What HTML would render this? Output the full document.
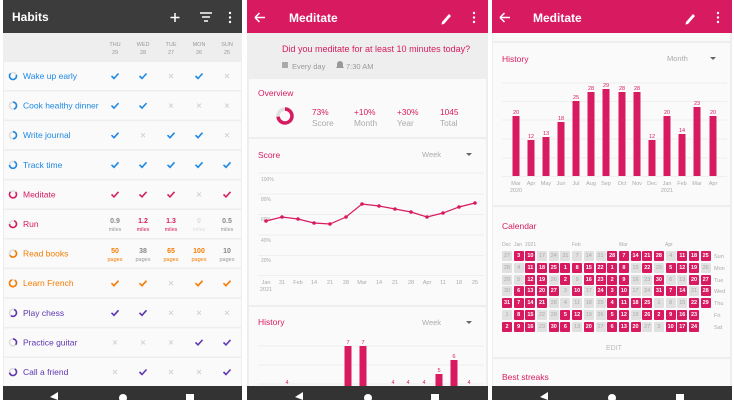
<!DOCTYPE html>
<html><head><meta charset="utf-8"><style>
body{margin:0;background:#fff;width:734px;height:400px;overflow:hidden;position:relative;font-family:"Liberation Sans",sans-serif}
svg{position:absolute;left:0;top:0}
.cal{position:absolute;left:502px;top:251px;display:grid;grid-template-rows:repeat(7,10px);grid-auto-flow:column;grid-auto-columns:10px;gap:1.8px 1.7px;font-family:"Liberation Sans",sans-serif;font-size:5.5px;font-weight:bold;text-align:center;line-height:10px}
.cal b{background:#d81b60;color:#fff;border-radius:1px}
.cal i{background:#e0e0e0;color:#aaa;font-style:normal;font-weight:normal;border-radius:1px}
</style></head><body>
<svg width="734" height="400" viewBox="0 0 734 400" font-family="Liberation Sans, sans-serif">
<defs>
<path id="ck" d="M-3.5,0 L-1,2.5 L3.5,-2.5" fill="none" stroke-width="1.6"/>
<path id="xx" d="M-2,-2 L2,2 M2,-2 L-2,2" stroke="#d0d0d0" stroke-width="0.9"/>
</defs>
<!-- PANEL 1 -->
<rect x="3" y="0" width="239" height="400" fill="#eeeeee"/>
<rect x="3" y="0" width="239" height="33" fill="#3c3c3c"/>
<text x="12" y="21" fill="#fff" font-size="12" font-weight="bold">Habits</text>
<path d="M175,13v9M170.5,17.5h9" stroke="#fff" stroke-width="1.5"/>
<path d="M200,13h12M202,17h8M204,21h4" stroke="#fff" stroke-width="1.4"/>
<circle cx="230" cy="13" r="1.2" fill="#fff"/><circle cx="230" cy="17.5" r="1.2" fill="#fff"/><circle cx="230" cy="22" r="1.2" fill="#fff"/>
<g fill="#999" font-size="5.5" text-anchor="middle">
<text x="115" y="46">THU</text><text x="115" y="54">29</text>
<text x="143" y="46">WED</text><text x="143" y="54">28</text>
<text x="171" y="46">TUE</text><text x="171" y="54">27</text>
<text x="199" y="46">MON</text><text x="199" y="54">26</text>
<text x="227" y="46">SUN</text><text x="227" y="54">25</text>
</g>
<g fill="#fafafa">
<rect x="4" y="62" width="237" height="28"/><rect x="4" y="91.6" width="237" height="28"/><rect x="4" y="121.2" width="237" height="28"/><rect x="4" y="150.8" width="237" height="28"/><rect x="4" y="180.4" width="237" height="28"/><rect x="4" y="210" width="237" height="28"/><rect x="4" y="239.6" width="237" height="28"/><rect x="4" y="269.2" width="237" height="28"/><rect x="4" y="298.8" width="237" height="28"/><rect x="4" y="328.4" width="237" height="28"/><rect x="4" y="358" width="237" height="28"/>
</g>
<g font-size="8.5">
<text x="23" y="79" fill="#1e88e5">Wake up early</text>
<text x="23" y="108.6" fill="#1e88e5">Cook healthy dinner</text>
<text x="23" y="138.2" fill="#1e88e5">Write journal</text>
<text x="23" y="167.8" fill="#1e88e5">Track time</text>
<text x="23" y="197.4" fill="#d81b60">Meditate</text>
<text x="23" y="227" fill="#d81b60">Run</text>
<text x="23" y="256.6" fill="#f57c00">Read books</text>
<text x="23" y="286.2" fill="#f57c00">Learn French</text>
<text x="23" y="315.8" fill="#5e35b1">Play chess</text>
<text x="23" y="345.4" fill="#5e35b1">Practice guitar</text>
<text x="23" y="375" fill="#5e35b1">Call a friend</text>
</g>
<g fill="none" stroke-width="1.6">
<circle cx="13" cy="76" r="3.5" stroke="#ddd"/><circle cx="13" cy="76" r="3.5" stroke="#1e88e5" stroke-dasharray="15 30" transform="rotate(-20 13 76)"/>
<circle cx="13" cy="105.6" r="3.5" stroke="#ddd"/><circle cx="13" cy="105.6" r="3.5" stroke="#1e88e5" stroke-dasharray="10 30" transform="rotate(-90 13 105.6)"/>
<circle cx="13" cy="135.2" r="3.5" stroke="#ddd"/><circle cx="13" cy="135.2" r="3.5" stroke="#1e88e5" stroke-dasharray="11 30" transform="rotate(-90 13 135.2)"/>
<circle cx="13" cy="164.8" r="3.5" stroke="#ddd"/><circle cx="13" cy="164.8" r="3.5" stroke="#1e88e5" stroke-dasharray="15 30" transform="rotate(-70 13 164.8)"/>
<circle cx="13" cy="194.4" r="3.5" stroke="#ddd"/><circle cx="13" cy="194.4" r="3.5" stroke="#d81b60" stroke-dasharray="16 30" transform="rotate(-40 13 194.4)"/>
<circle cx="13" cy="224" r="3.5" stroke="#ddd"/><circle cx="13" cy="224" r="3.5" stroke="#d81b60" stroke-dasharray="15 30" transform="rotate(-70 13 224)"/>
<circle cx="13" cy="253.6" r="3.5" stroke="#ddd"/><circle cx="13" cy="253.6" r="3.5" stroke="#f57c00" stroke-dasharray="13 30" transform="rotate(-60 13 253.6)"/>
<circle cx="13" cy="283.2" r="3.5" stroke="#ddd"/><circle cx="13" cy="283.2" r="3.5" stroke="#f57c00" stroke-dasharray="19 30" transform="rotate(-60 13 283.2)"/>
<circle cx="13" cy="312.8" r="3.5" stroke="#ddd"/><circle cx="13" cy="312.8" r="3.5" stroke="#5e35b1" stroke-dasharray="12 30" transform="rotate(-70 13 312.8)"/>
<circle cx="13" cy="342.4" r="3.5" stroke="#ddd"/><circle cx="13" cy="342.4" r="3.5" stroke="#5e35b1" stroke-dasharray="8 30" transform="rotate(-90 13 342.4)"/>
<circle cx="13" cy="372" r="3.5" stroke="#ddd"/><circle cx="13" cy="372" r="3.5" stroke="#5e35b1" stroke-dasharray="14 30" transform="rotate(-60 13 372)"/>
</g>
<g stroke="#1e88e5">
<use href="#ck" x="115" y="76"/><use href="#ck" x="143" y="76"/><use href="#xx" x="171" y="76"/><use href="#ck" x="199" y="76"/><use href="#xx" x="227" y="76"/>
<use href="#ck" x="115" y="105.6"/><use href="#ck" x="143" y="105.6"/><use href="#xx" x="171" y="105.6"/><use href="#xx" x="199" y="105.6"/><use href="#xx" x="227" y="105.6"/>
<use href="#ck" x="115" y="135.2"/><use href="#xx" x="143" y="135.2"/><use href="#ck" x="171" y="135.2"/><use href="#ck" x="199" y="135.2"/><use href="#xx" x="227" y="135.2"/>
<use href="#ck" x="115" y="164.8"/><use href="#ck" x="143" y="164.8"/><use href="#ck" x="171" y="164.8"/><use href="#ck" x="199" y="164.8"/><use href="#ck" x="227" y="164.8"/>
</g>
<g stroke="#d81b60">
<use href="#ck" x="115" y="194.4"/><use href="#ck" x="143" y="194.4"/><use href="#ck" x="171" y="194.4"/><use href="#xx" x="199" y="194.4"/><use href="#ck" x="227" y="194.4"/>
</g>
<g stroke="#f57c00">
<use href="#ck" x="115" y="283.2"/><use href="#ck" x="143" y="283.2"/><use href="#xx" x="171" y="283.2"/><use href="#ck" x="199" y="283.2"/><use href="#ck" x="227" y="283.2"/>
</g>
<g stroke="#5e35b1">
<use href="#ck" x="115" y="312.8"/><use href="#ck" x="143" y="312.8"/><use href="#xx" x="171" y="312.8"/><use href="#xx" x="199" y="312.8"/><use href="#xx" x="227" y="312.8"/>
<use href="#xx" x="115" y="342.4"/><use href="#xx" x="143" y="342.4"/><use href="#xx" x="171" y="342.4"/><use href="#ck" x="199" y="342.4"/><use href="#ck" x="227" y="342.4"/>
<use href="#xx" x="115" y="372"/><use href="#ck" x="143" y="372"/><use href="#xx" x="171" y="372"/><use href="#xx" x="199" y="372"/><use href="#ck" x="227" y="372"/>
</g>
<g text-anchor="middle" font-size="7" font-weight="bold">
<text x="115" y="223" fill="#888">0.9</text><text x="143" y="223" fill="#d81b60">1.2</text><text x="171" y="223" fill="#d81b60">1.3</text><text x="199" y="223" fill="#ddd">0</text><text x="227" y="223" fill="#888">0.5</text>
<text x="115" y="253" fill="#f57c00">50</text><text x="143" y="253" fill="#888">38</text><text x="171" y="253" fill="#f57c00">65</text><text x="199" y="253" fill="#f57c00">100</text><text x="227" y="253" fill="#888">10</text>
</g>
<g text-anchor="middle" font-size="5.5">
<text x="115" y="231" fill="#999">miles</text><text x="143" y="231" fill="#d81b60">miles</text><text x="171" y="231" fill="#d81b60">miles</text><text x="199" y="231" fill="#ddd">miles</text><text x="227" y="231" fill="#999">miles</text>
<text x="115" y="261" fill="#f57c00">pages</text><text x="143" y="261" fill="#999">pages</text><text x="171" y="261" fill="#f57c00">pages</text><text x="199" y="261" fill="#f57c00">pages</text><text x="227" y="261" fill="#999">pages</text>
</g>
<rect x="3" y="386" width="239" height="14" fill="#333"/>
<path d="M50,397 L58,392 L58,400 Z" fill="#fff"/><circle cx="123" cy="398" r="4" fill="#fff"/><rect x="186" y="394" width="8" height="8" fill="#fff"/>

<!-- PANEL 2 -->
<rect x="247" y="0" width="241" height="400" fill="#eeeeee"/>
<rect x="247" y="0" width="241" height="33" fill="#d81b60"/>
<path d="M255,17.5h10M255,17.5l4.5,-4.5M255,17.5l4.5,4.5" stroke="#fff" stroke-width="1.5" fill="none"/>
<text x="289" y="22" fill="#fff" font-size="12" font-weight="bold">Meditate</text>
<path d="M442,22 L449,14 L451,16 L444,24 L441.5,24.5 Z" fill="#fff"/>
<circle cx="474" cy="13" r="1.2" fill="#fff"/><circle cx="474" cy="17.5" r="1.2" fill="#fff"/><circle cx="474" cy="22" r="1.2" fill="#fff"/>
<text x="282" y="52" fill="#d81b60" font-size="9">Did you meditate for at least 10 minutes today?</text>
<rect x="282" y="62" width="6" height="6" fill="#aaa"/>
<text x="292" y="69" fill="#999" font-size="7.5">Every day</text>
<path d="M336,68h8l-1,-1.5v-2.5a3,3 0 0 0 -6,0v2.5z" fill="#999"/>
<text x="346" y="69" fill="#999" font-size="7.5">7:30 AM</text>
<rect x="249" y="79" width="237" height="58" fill="#fafafa"/>
<text x="258" y="96" fill="#d81b60" font-size="8.5">Overview</text>
<circle cx="285" cy="116" r="7" fill="none" stroke="#e0e0e0" stroke-width="3.5"/>
<circle cx="285" cy="116" r="7" fill="none" stroke="#d81b60" stroke-width="3.5" stroke-dasharray="32 44" transform="rotate(-90 285 116)"/>
<g font-size="8.3"><text x="312" y="115" fill="#d81b60">73%</text><text x="312" y="126" fill="#aaa">Score</text>
<text x="354" y="115" fill="#d81b60">+10%</text><text x="354" y="126" fill="#aaa">Month</text>
<text x="397" y="115" fill="#d81b60">+30%</text><text x="397" y="126" fill="#aaa">Year</text>
<text x="440" y="115" fill="#d81b60">1045</text><text x="440" y="126" fill="#aaa">Total</text></g>
<rect x="249" y="139" width="237" height="166" fill="#fafafa"/>
<text x="258" y="158" fill="#d81b60" font-size="8.5">Score</text>
<text x="422" y="157" fill="#aaa" font-size="7.5">Week</text><path d="M466,153h6l-3,3z" fill="#666"/>
<g stroke="#ebebeb" stroke-width="0.7"><path d="M258,173H484M258,194H484M258,214.5H484M258,235H484M258,255.5H484M258,275.5H484"/></g>
<g fill="#aaa" font-size="5"><text x="261" y="181">100%</text><text x="261" y="201">80%</text><text x="261" y="221">60%</text><text x="261" y="242">40%</text><text x="261" y="262">20%</text></g>
<polyline fill="none" stroke="#d81b60" stroke-width="1.2" points="266,221 282,217 298,219 314,223 330,224 346,217 362,204 379,206 395,209 411,212 427,217 443,213 459,207 475,203"/>
<g fill="#d81b60"><circle cx="266" cy="221" r="1.8"/><circle cx="282" cy="217" r="1.8"/><circle cx="298" cy="219" r="1.8"/><circle cx="314" cy="223" r="1.8"/><circle cx="330" cy="224" r="1.8"/><circle cx="346" cy="217" r="1.8"/><circle cx="362" cy="204" r="1.8"/><circle cx="379" cy="206" r="1.8"/><circle cx="395" cy="209" r="1.8"/><circle cx="411" cy="212" r="1.8"/><circle cx="427" cy="217" r="1.8"/><circle cx="443" cy="213" r="1.8"/><circle cx="459" cy="207" r="1.8"/><circle cx="475" cy="203" r="1.8"/></g>
<g fill="#aaa" font-size="5.5" text-anchor="middle"><text x="266" y="284">Jan</text><text x="266" y="291">2021</text><text x="282" y="284">31</text><text x="298" y="284">Feb</text><text x="314" y="284">14</text><text x="330" y="284">21</text><text x="346" y="284">28</text><text x="362" y="284">Mar</text><text x="379" y="284">14</text><text x="395" y="284">21</text><text x="411" y="284">28</text><text x="427" y="284">Apr</text><text x="443" y="284">11</text><text x="459" y="284">18</text><text x="475" y="284">25</text></g>
<rect x="249" y="307" width="237" height="79" fill="#fafafa"/>
<text x="258" y="325" fill="#d81b60" font-size="8.5">History</text>
<text x="422" y="325" fill="#aaa" font-size="7.5">Week</text><path d="M466,321h6l-3,3z" fill="#666"/>
<g stroke="#ebebeb" stroke-width="0.7"><path d="M258,346H484M258,365H484M258,384H484"/></g>
<g fill="#d81b60"><rect x="344.5" y="346" width="7" height="40"/><rect x="359.5" y="346" width="7" height="40"/><rect x="435.5" y="374" width="7" height="12"/><rect x="450.5" y="360" width="7" height="26"/></g>
<g fill="#d81b60" font-size="5.5" text-anchor="middle"><text x="348" y="344">7</text><text x="363" y="344">7</text><text x="439" y="372">5</text><text x="454" y="358">6</text><text x="287" y="384">4</text><text x="393" y="384">4</text><text x="408" y="384">4</text><text x="424" y="384">4</text><text x="469" y="384">4</text></g>
<rect x="247" y="386" width="241" height="14" fill="#333"/>
<path d="M295,397 L303,392 L303,400 Z" fill="#fff"/><circle cx="368" cy="398" r="4" fill="#fff"/><rect x="431" y="394" width="8" height="8" fill="#fff"/>

<!-- PANEL 3 -->
<rect x="492" y="0" width="240" height="400" fill="#eeeeee"/>
<rect x="493" y="33" width="237" height="8" fill="#fafafa"/>
<rect x="492" y="0" width="240" height="33" fill="#d81b60"/>
<path d="M500,17.5h10M500,17.5l4.5,-4.5M500,17.5l4.5,4.5" stroke="#fff" stroke-width="1.5" fill="none"/>
<text x="533" y="22" fill="#fff" font-size="12" font-weight="bold">Meditate</text>
<path d="M686,22 L693,14 L695,16 L688,24 L685.5,24.5 Z" fill="#fff"/>
<circle cx="718" cy="13" r="1.2" fill="#fff"/><circle cx="718" cy="17.5" r="1.2" fill="#fff"/><circle cx="718" cy="22" r="1.2" fill="#fff"/>
<rect x="493" y="43" width="237" height="162" fill="#fafafa"/>
<text x="502" y="62" fill="#d81b60" font-size="8.5">History</text>
<text x="667" y="61" fill="#aaa" font-size="7.5">Month</text><path d="M710,57h6l-3,3z" fill="#666"/>
<g stroke="#ebebeb" stroke-width="0.7"><path d="M502,83H727M502,101.5H727M502,120H727M502,139H727M502,158H727M502,176.5H727"/></g>
<g fill="#d81b60">
<rect x="512.5" y="116" width="7" height="60"/><rect x="527.5" y="140" width="7" height="36"/><rect x="542.5" y="137" width="7" height="39"/><rect x="557.5" y="122" width="7" height="54"/><rect x="572.5" y="101" width="7" height="75"/><rect x="587.5" y="92" width="7" height="84"/><rect x="602.5" y="89" width="7" height="87"/><rect x="618.5" y="92" width="7" height="84"/><rect x="633.5" y="92" width="7" height="84"/><rect x="648.5" y="140" width="7" height="36"/><rect x="663.5" y="116" width="7" height="60"/><rect x="678.5" y="134" width="7" height="42"/><rect x="693.5" y="107" width="7" height="69"/><rect x="709.5" y="116" width="7" height="60"/>
</g>
<g fill="#d81b60" font-size="5.5" text-anchor="middle"><text x="516" y="114">20</text><text x="531" y="138">12</text><text x="546" y="135">13</text><text x="561" y="120">18</text><text x="576" y="99">25</text><text x="591" y="90">28</text><text x="606" y="87">29</text><text x="622" y="90">28</text><text x="637" y="90">28</text><text x="652" y="138">12</text><text x="667" y="114">20</text><text x="682" y="132">14</text><text x="697" y="105">23</text><text x="713" y="114">20</text></g>
<g fill="#aaa" font-size="5.5" text-anchor="middle"><text x="516" y="185">Mar</text><text x="516" y="192">2020</text><text x="531" y="185">Apr</text><text x="546" y="185">May</text><text x="561" y="185">Jun</text><text x="576" y="185">Jul</text><text x="591" y="185">Aug</text><text x="606" y="185">Sep</text><text x="622" y="185">Oct</text><text x="637" y="185">Nov</text><text x="652" y="185">Dec</text><text x="667" y="185">Jan</text><text x="667" y="192">2021</text><text x="682" y="185">Feb</text><text x="697" y="185">Mar</text><text x="713" y="185">Apr</text></g>
<rect x="493" y="207" width="237" height="150" fill="#fafafa"/>
<text x="502" y="229" fill="#d81b60" font-size="8.5">Calendar</text>
<g fill="#aaa" font-size="5"><text x="502" y="246">Dec</text><text x="514" y="246">Jan</text><text x="525" y="246">2021</text><text x="572" y="246">Feb</text><text x="619" y="246">Mar</text><text x="665" y="246">Apr</text></g>
<g fill="#aaa" font-size="5.5"><text x="714" y="258">Sun</text><text x="714" y="270">Mon</text><text x="714" y="282">Tue</text><text x="714" y="293">Wed</text><text x="714" y="305">Thu</text><text x="714" y="317">Fri</text><text x="714" y="329">Sat</text></g>
<text x="614" y="350" fill="#bbb" font-size="7" text-anchor="middle">EDIT</text>
<rect x="493" y="359" width="237" height="27" fill="#fafafa"/>
<text x="502" y="380" fill="#d81b60" font-size="8.5">Best streaks</text>
<rect x="492" y="386" width="240" height="14" fill="#333"/>
<path d="M540,397 L548,392 L548,400 Z" fill="#fff"/><circle cx="612" cy="398" r="4" fill="#fff"/><rect x="676" y="394" width="8" height="8" fill="#fff"/>
</svg>
<div class="cal">
<i>27</i><i>28</i><i>29</i><i>30</i><b>31</b><i>1</i><b>2</b>
<b>3</b><i>4</i><i>5</i><b>6</b><b>7</b><b>8</b><b>9</b>
<b>10</b><b>11</b><b>12</b><b>13</b><b>14</b><b>15</b><b>16</b>
<i>17</i><b>18</b><b>19</b><b>20</b><b>21</b><i>22</i><i>23</i>
<i>24</i><b>25</b><i>26</i><b>27</b><i>28</i><i>29</i><b>30</b>
<i>31</i><b>1</b><b>2</b><i>3</i><i>4</i><b>5</b><b>6</b>
<i>7</i><b>8</b><i>9</i><b>10</b><i>11</i><b>12</b><i>13</i>
<i>14</i><b>15</b><b>16</b><i>17</i><i>18</i><i>19</i><b>20</b>
<i>21</i><b>22</b><b>23</b><b>24</b><i>25</i><i>26</i><i>27</i>
<b>28</b><b>1</b><b>2</b><b>3</b><b>4</b><b>5</b><b>6</b>
<b>7</b><b>8</b><b>9</b><b>10</b><b>11</b><b>12</b><b>13</b>
<b>14</b><i>15</i><i>16</i><i>17</i><b>18</b><i>19</i><b>20</b>
<b>21</b><b>22</b><i>23</i><i>24</i><b>25</b><b>26</b><i>27</i>
<b>28</b><i>29</i><b>30</b><b>31</b><i>1</i><b>2</b><i>3</i>
<i>4</i><b>5</b><i>6</i><b>7</b><i>8</i><b>9</b><b>10</b>
<b>11</b><b>12</b><i>13</i><b>14</b><i>15</i><b>16</b><b>17</b>
<b>18</b><b>19</b><b>20</b><i>21</i><b>22</b><b>23</b><b>24</b>
<b>25</b><i>26</i><b>27</b><b>28</b><b>29</b>
</div>
</body></html>
